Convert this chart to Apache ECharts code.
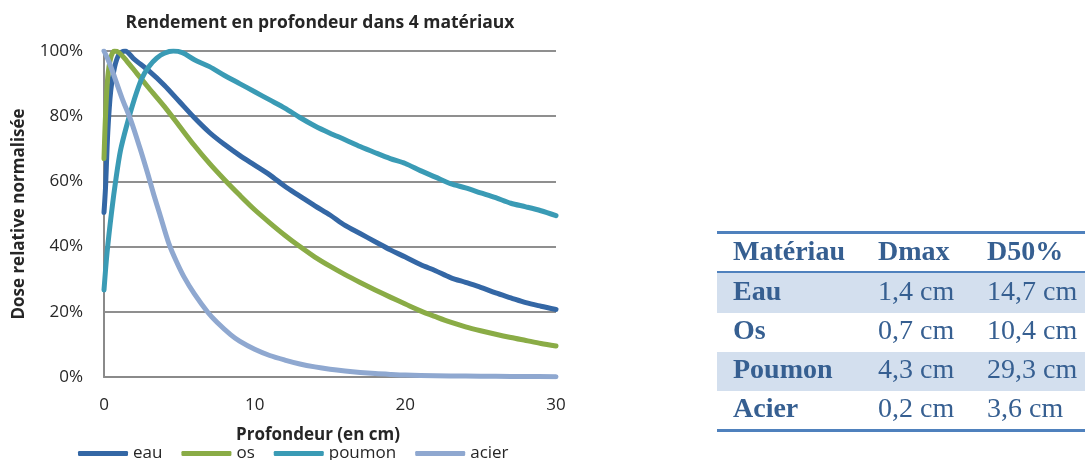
<!DOCTYPE html>
<html>
<head>
<meta charset="utf-8">
<script src="https://cdn.jsdelivr.net/npm/echarts@6/dist/echarts.min.js"></script>
<style>
  html, body { margin: 0; padding: 0; background: #fff; }
  #chart { width: 1085px; height: 460px; }
</style>
</head>
<body>
<div id="chart"></div>
<script>
// profondeur (cm) / dose relative (%)
const eau = [[0, 50.5], [0.1, 58], [0.25, 75], [0.45, 88], [0.7, 95], [1, 99], [1.4, 100], [2, 97.5], [3, 93.8], [4, 89.5], [5, 84.5], [6, 79.5],
    [7, 75], [8, 71.3], [9, 68], [10, 65], [11, 62], [12, 58.5], [13, 55.5], [14, 52.5], [15, 49.7], [16, 46.5], [17, 44], [18, 41.5],
    [19, 39], [20, 36.8], [21, 34.5], [22, 32.6], [23, 30.5], [24, 29], [25, 27.5], [26, 25.8], [27, 24.3], [28, 22.8], [29, 21.7], [30, 20.7]]
const os = [[0, 67], [0.1, 80], [0.25, 92], [0.45, 98], [0.7, 100], [1, 99.5], [1.5, 97], [2.2, 93], [3, 88.5], [4, 83], [5, 77], [6, 71],
    [7, 65.5], [8, 60.5], [9, 55.8], [10, 51.3], [11, 47.3], [12, 43.5], [13, 40], [14, 36.8], [15, 34], [16, 31.4], [17, 29], [18, 26.7],
    [19, 24.5], [20, 22.4], [21, 20.3], [22, 18.5], [23, 16.8], [24, 15.4], [25, 14.2], [26, 13.1], [27, 12.1], [28, 11.2], [29, 10.3], [30, 9.5]]
const poumon = [[0, 26.7], [0.2, 38], [0.5, 50.5], [0.8, 61], [1.1, 69.6], [1.5, 77], [2, 85], [2.5, 91.5], [3, 95.3], [3.5, 97.8], [4, 99.3],
    [4.6, 100], [5.2, 99.5], [6, 97.3], [7, 95.2], [8, 92.5], [9, 90], [10, 87.5], [11, 85], [12, 82.5], [13, 79.6], [14, 77], [15, 74.8],
    [16, 72.8], [17, 70.7], [18, 68.8], [19, 67], [20, 65.5], [21, 63.3], [22, 61.3], [23, 59.3], [24, 58], [25, 56.5], [26, 55], [27, 53.3],
    [28, 52.2], [29, 51], [30, 49.5]]
const acier = [[0, 100], [0.3, 97], [0.7, 92], [1.2, 85.5], [1.8, 78.5], [2.4, 70], [2.9, 62.4], [3.3, 56], [3.7, 50], [4.3, 41], [4.8, 35.5],
    [5.3, 30.8], [6, 25.5], [6.9, 19.8], [7.5, 16.8], [8.4, 13], [9, 11], [10, 8.5], [11, 6.6], [12, 5.2], [13, 4], [14, 3.1], [15, 2.4],
    [16, 1.85], [17, 1.4], [18, 1.05], [19, 0.8], [20, 0.6], [22, 0.4], [24, 0.3], [26, 0.2], [28, 0.15], [30, 0.1]]

const seriesNames = ['eau', 'os', 'poumon', 'acier']
const seriesColors = ['#3467A5', '#8AAC46', '#3A9BB5', '#8FA8D0']

// tableau
const tableHead = ['Matériau', 'Dmax', 'D50%']
const tableRows = [
    ['Eau', '1,4 cm', '14,7 cm'],
    ['Os', '0,7 cm', '10,4 cm'],
    ['Poumon', '4,3 cm', '29,3 cm'],
    ['Acier', '0,2 cm', '3,6 cm']
]

const font = 'Open Sans'
const serif = 'Liberation Serif'
const tableBlue = '#365F91'
const colX = [733, 878, 987]
const headY = 253
const rowY = [293, 332, 371, 410]
const rowTop = [273, 313, 352, 391]
const rowH = [40, 39, 39, 39]

const graphics = []
rowTop.forEach((top, i) => {
    if (i % 2 === 0) {
        graphics.push({type: 'rect', shape: {x: 717, y: top, width: 368, height: rowH[i]}, style: {fill: '#D3DFEE'}, silent: true})
    }
})
graphics.push({type: 'line', shape: {x1: 717, y1: 232.5, x2: 1085, y2: 232.5}, style: {stroke: '#4F81BD', lineWidth: 3}})
graphics.push({type: 'line', shape: {x1: 717, y1: 272, x2: 1085, y2: 272}, style: {stroke: '#4F81BD', lineWidth: 2}})
graphics.push({type: 'line', shape: {x1: 717, y1: 430.5, x2: 1085, y2: 430.5}, style: {stroke: '#4F81BD', lineWidth: 3}})
tableHead.forEach((t, j) => {
    graphics.push({type: 'text', x: colX[j], y: headY, style: {text: t, fill: tableBlue, font: 'bold 28px "' + serif + '"', verticalAlign: 'middle'}})
})
tableRows.forEach((row, i) => {
    row.forEach((t, j) => {
        const w = j === 0 ? 'bold ' : ''
        graphics.push({type: 'text', x: colX[j], y: rowY[i], style: {text: t, fill: tableBlue, font: w + '28px "' + serif + '"', verticalAlign: 'middle'}})
    })
})

const chart = echarts.init(document.getElementById('chart'))
chart.setOption({
    animation: false,
    title: {
        text: 'Rendement en profondeur dans 4 matériaux',
        left: 315,
        top: 9,
        textAlign: 'center',
        textStyle: {fontFamily: font, fontSize: 17.5, fontWeight: 'bold', color: '#262626'}
    },
    legend: {
        data: seriesNames,
        left: 73,
        top: 440,
        icon: 'roundRect',
        itemWidth: 50,
        itemHeight: 5,
        itemGap: 19,
        textStyle: {fontFamily: font, fontSize: 17, color: '#262626'}
    },
    grid: {left: 104, top: 51, width: 452, height: 326},
    xAxis: {
        type: 'value',
        min: 0,
        max: 30,
        interval: 10,
        name: 'Profondeur (en cm)',
        nameLocation: 'middle',
        nameGap: 50,
        nameTextStyle: {fontFamily: font, fontSize: 17, fontWeight: 'bold', color: '#262626', padding: [0, 24, 0, 0]},
        axisLine: {lineStyle: {color: '#8A8A8A', width: 2}},
        axisTick: {show: false},
        axisLabel: {fontFamily: font, fontSize: 17, color: '#262626', margin: 20},
        splitLine: {show: false}
    },
    yAxis: {
        type: 'value',
        min: 0,
        max: 100,
        interval: 20,
        name: 'Dose relative normalisée',
        nameLocation: 'middle',
        nameGap: 76,
        nameTextStyle: {fontFamily: font, fontSize: 17, fontWeight: 'bold', color: '#262626'},
        axisLine: {show: true, lineStyle: {color: '#8A8A8A', width: 2}},
        axisTick: {show: false},
        axisLabel: {fontFamily: font, fontSize: 17, color: '#262626', margin: 21, formatter: '{value}%'},
        splitLine: {lineStyle: {color: '#8F8F8F', width: 2}}
    },
    series: [eau, os, poumon, acier].map((d, i) => ({
        name: seriesNames[i],
        type: 'line',
        data: d,
        showSymbol: false,
        smooth: 0.3,
        color: seriesColors[i],
        lineStyle: {width: 5, color: seriesColors[i], cap: 'round', join: 'round'}
    })),
    graphic: graphics
})
</script>
</body>
</html>
